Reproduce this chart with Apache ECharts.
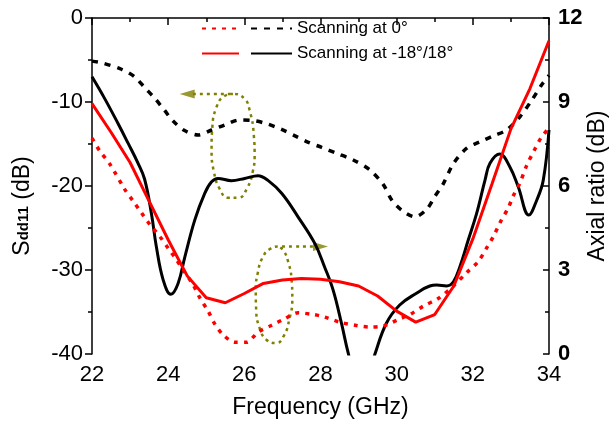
<!DOCTYPE html>
<html>
<head>
<meta charset="utf-8">
<script src="https://cdn.jsdelivr.net/npm/echarts@6/dist/echarts.min.js"></script>
<style>
  html, body { margin: 0; padding: 0; background: #fff; }
  #chart { width: 610px; height: 423px; }
</style>
</head>
<body>
<div id="chart"></div>
<script>
const FONT = 'Liberation Sans, Arial, sans-serif';

// Sdd11 (dB), left axis
const sddFreq18 = [22, 22.5, 23, 23.5, 24, 24.5, 25, 25.5, 26, 26.5, 27, 27.5, 28, 28.5, 29, 29.5, 30, 30.5, 31, 31.5, 32, 32.5, 33, 33.5, 34];
const sddScan18 = [-10.2, -13.6, -17.2, -21.8, -26.4, -30.7, -33.3, -33.9, -32.8, -31.6, -31.2, -31.0, -31.1, -31.4, -31.9, -33.1, -34.9, -36.2, -35.3, -31.9, -26.3, -19.8, -13.2, -8.4, -2.7];

const sddFreq0 = [22, 22.2, 22.47, 22.86, 23.08, 23.3, 23.52, 23.78, 24, 24.22, 24.44, 24.65, 24.83, 25.05, 25.22, 25.44, 25.75, 26.06, 26.36, 26.71, 27.06, 27.41, 27.81, 28.11, 28.5, 28.94, 29.3, 29.69, 30.04, 30.35, 30.7, 31.09, 31.49, 31.84, 32.14, 32.36, 32.54, 32.71, 32.93, 33.06, 33.24, 33.41, 33.63, 33.8, 34];
const sddScan0 = [-14.3, -15.8, -17.4, -20.4, -21.8, -23.2, -24.6, -26.0, -27.4, -28.8, -30.3, -31.7, -33.3, -34.9, -36.4, -37.7, -38.6, -38.6, -37.4, -36.6, -35.8, -35.1, -35.3, -35.6, -36.2, -36.6, -36.8, -36.6, -35.9, -35.3, -34.3, -33.4, -31.9, -30.3, -29.0, -27.4, -26.0, -24.4, -22.6, -21.2, -19.6, -17.6, -15.6, -14.2, -13.1];

// Axial ratio (dB), right axis
const arFreq0 = [22, 22.25, 22.77, 23.12, 23.38, 23.65, 23.9, 24.13, 24.43, 24.79, 25.14, 25.49, 25.88, 26.27, 26.62, 26.98, 27.33, 27.68, 28.03, 28.42, 28.86, 29.3, 29.65, 29.87, 30.13, 30.48, 30.79, 31, 31.22, 31.49, 31.84, 32.19, 32.54, 32.89, 33.24, 33.55, 33.8, 34];
const arScan0 = [10.46, 10.4, 10.17, 9.9, 9.52, 9.13, 8.71, 8.32, 7.98, 7.82, 8.0, 8.18, 8.36, 8.33, 8.21, 8.02, 7.79, 7.56, 7.38, 7.17, 6.93, 6.57, 6.05, 5.5, 5.14, 4.9, 5.17, 5.62, 6.07, 6.8, 7.35, 7.58, 7.79, 8.0, 8.48, 9.07, 9.6, 9.95];

const arFreq18 = [22, 22.33, 22.68, 22.95, 23.21, 23.38, 23.56, 23.69, 23.87, 24.07, 24.26, 24.44, 24.7, 24.96, 25.14, 25.31, 25.66, 26.01, 26.36, 26.62, 26.98, 27.41, 27.85, 28.11, 28.33, 28.55, 28.73, 28.95, 29.2, 29.43, 29.73, 30.08, 30.52, 30.87, 31.05, 31.31, 31.49, 31.66, 31.88, 32.1, 32.32, 32.45, 32.71, 32.97, 33.19, 33.47, 33.68, 33.85, 34];
const arScan18 = [9.9, 9.13, 8.24, 7.52, 6.81, 6.25, 5.02, 3.83, 2.64, 2.13, 2.52, 3.48, 4.79, 5.74, 6.15, 6.27, 6.19, 6.27, 6.37, 6.2, 5.74, 4.9, 3.95, 3.1, 2.29, 1.1, 0.02, -1.0, -1.0, 0.0, 1.1, 1.75, 2.17, 2.43, 2.46, 2.43, 2.58, 3.12, 4.07, 5.02, 6.21, 6.81, 7.14, 6.69, 5.98, 4.96, 5.5, 6.21, 8.0];

// olive annotation loops, in (GHz, dB)
const loopUpper = [[24.65, -9.04], [25.7, -9.04], [26.0, -9.6], [26.14, -11.0], [26.25, -14.0], [26.27, -16.4], [26.22, -18.3], [26.08, -20.2], [25.84, -21.4], [25.57, -21.4], [25.36, -20.4], [25.2, -18.3], [25.14, -15.6], [25.16, -13.0], [25.27, -10.6], [25.47, -9.3], [25.7, -9.04]];
const loopLower = [[27.8, -27.2], [26.93, -27.2], [26.67, -27.5], [26.47, -28.6], [26.36, -30.2], [26.3, -32.3], [26.31, -34.7], [26.4, -36.9], [26.58, -38.3], [26.83, -38.7], [27.04, -37.8], [27.18, -35.9], [27.26, -33.5], [27.24, -31.1], [27.15, -29.0], [27.03, -27.7], [26.89, -27.2]];
const arrowHeads = [[24.5, -9.04, 90], [28.0, -27.2, -90]];

const pairs = (xs, ys) => xs.map((x, i) => [x, ys[i]]);

const OLIVE = '#808000';

const chart = echarts.init(document.getElementById('chart'));

const legendBase = {
    orient: 'vertical',
    top: 20,
    padding: 0,
    itemHeight: 14,
    itemGap: 8,
    selectedMode: false,
    itemStyle: { opacity: 0 },
    textStyle: { fontSize: 17, color: '#000', fontFamily: FONT }
};

chart.setOption({
    animation: false,
    textStyle: { fontFamily: FONT },
    grid: { left: 92, right: 61, top: 18, bottom: 69, outerBoundsMode: 'none' },
    legend: [Object.assign({}, legendBase, {
        data: ['Sdd11 0°', 'Sdd11 -18°/18°'],
        left: 201,
        itemWidth: 37,
        formatter: () => ' '
    }), Object.assign({}, legendBase, {
        data: ['Scanning at 0°', 'Scanning at -18°/18°'],
        left: 250,
        itemWidth: 41
    })],
    xAxis: {
        type: 'value',
        min: 22,
        max: 34,
        interval: 2,
        name: 'Frequency (GHz)',
        nameLocation: 'middle',
        nameGap: 42,
        nameTextStyle: { fontSize: 23, color: '#000', fontFamily: FONT },
        axisLine: { lineStyle: { color: '#000', width: 1.5 } },
        axisTick: { length: 7, lineStyle: { width: 1.5 } },
        minorTick: { show: true, splitNumber: 2, length: 4, lineStyle: { color: '#000', width: 1.5 } },
        axisLabel: { fontSize: 22, color: '#000', margin: 10, fontFamily: FONT },
        splitLine: { show: false }
    },
    yAxis: [{
        type: 'value',
        min: -40,
        max: 0,
        interval: 10,
        name: '{s|S}{sub|dd11}{s| (dB)}',
        nameLocation: 'middle',
        nameGap: 58,
        nameRotate: 90,
        nameTextStyle: {
            padding: [0, 40, 0, 0],
            rich: {
                s: { fontSize: 23, color: '#000', fontFamily: FONT },
                sub: { fontSize: 15, fontWeight: 'bold', color: '#000', fontFamily: FONT, padding: [0, 0, -2, 0] }
            }
        },
        axisLine: { show: true, lineStyle: { color: '#000', width: 1.5 } },
        axisTick: { show: true, length: 7, lineStyle: { width: 1.5 } },
        minorTick: { show: true, splitNumber: 2, length: 4, lineStyle: { color: '#000', width: 1.5 } },
        axisLabel: { fontSize: 22, color: '#000', margin: 9, fontFamily: FONT },
        splitLine: { show: false }
    }, {
        type: 'value',
        min: 0,
        max: 12,
        interval: 3,
        position: 'right',
        name: 'Axial ratio (dB)',
        nameLocation: 'middle',
        nameGap: 37,
        nameMoveOverlap: false,
        nameRotate: 90,
        nameTextStyle: { fontSize: 23, color: '#000', fontFamily: FONT },
        axisLine: { show: true, lineStyle: { color: '#000', width: 1.5 } },
        axisTick: { show: true, inside: true, length: 6, lineStyle: { width: 1.5 } },
        minorTick: { show: true, splitNumber: 2, length: 4, lineStyle: { color: '#000', width: 1.5 } },
        axisLabel: { fontSize: 22, fontWeight: 'bold', color: '#000', margin: 9, fontFamily: FONT },
        splitLine: { show: false }
    }],
    series: [{
        name: 'Sdd11 0°',
        type: 'line',
        yAxisIndex: 0,
        data: pairs(sddFreq0, sddScan0),
        symbol: 'none',
        smooth: 0.3,
        lineStyle: { color: '#ff0000', width: 3.5, type: [4, 6] },
        itemStyle: { color: '#ff0000' },
        z: 3
    }, {
        name: 'Sdd11 -18°/18°',
        type: 'line',
        yAxisIndex: 0,
        data: pairs(sddFreq18, sddScan18),
        symbol: 'none',
        lineStyle: { color: '#ff0000', width: 3 },
        itemStyle: { color: '#ff0000' },
        z: 3
    }, {
        name: 'Scanning at 0°',
        type: 'line',
        yAxisIndex: 1,
        data: pairs(arFreq0, arScan0),
        symbol: 'none',
        smooth: 0.3,
        lineStyle: { color: '#000', width: 3.5, type: [6, 7] },
        itemStyle: { color: '#000' },
        z: 2
    }, {
        name: 'Scanning at -18°/18°',
        type: 'line',
        yAxisIndex: 1,
        data: pairs(arFreq18, arScan18),
        symbol: 'none',
        smooth: 0.4,
        lineStyle: { color: '#000', width: 3 },
        itemStyle: { color: '#000' },
        z: 2
    }, {
        name: 'loopUpper',
        type: 'line',
        yAxisIndex: 0,
        data: loopUpper,
        symbol: 'none',
        smooth: 0.5,
        silent: true,
        lineStyle: { color: OLIVE, width: 2.5, type: [3, 4] },
        z: 1
    }, {
        name: 'loopLower',
        type: 'line',
        yAxisIndex: 0,
        data: loopLower,
        symbol: 'none',
        smooth: 0.5,
        silent: true,
        lineStyle: { color: OLIVE, width: 2.5, type: [3, 4] },
        z: 1
    }, {
        name: 'arrows',
        type: 'scatter',
        yAxisIndex: 0,
        silent: true,
        symbol: 'triangle',
        symbolSize: [9, 15],
        itemStyle: { color: OLIVE },
        data: arrowHeads.map(a => ({ value: [a[0], a[1]], symbolRotate: a[2] })),
        z: 1
    }]
});
</script>
</body>
</html>
